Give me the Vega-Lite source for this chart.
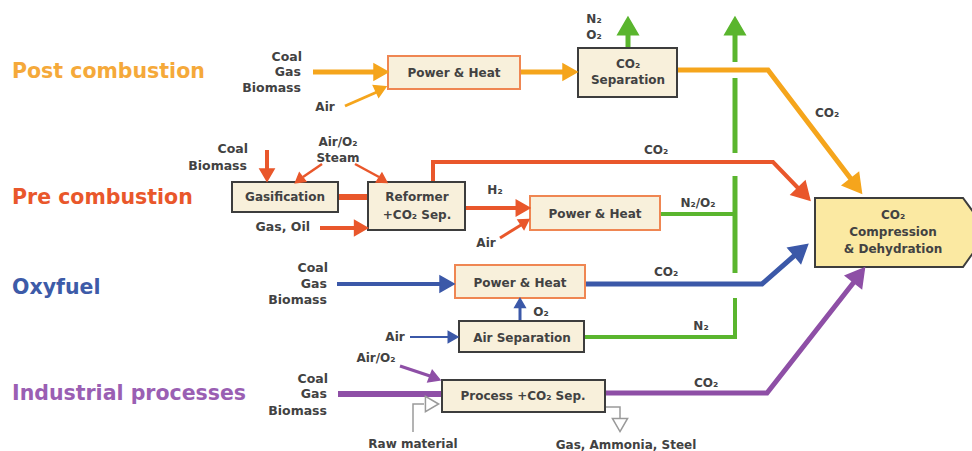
{
  "$schema": "https://vega.github.io/schema/vega-lite/v6.json",
  "width": 972,
  "height": 451,
  "autosize": {"type": "none"},
  "padding": 0,
  "background": "white",
  "config": {"view": {"stroke": null}},
  "datasets": {
    "lines": [
      {"id": "p1", "o": 1, "x": 313, "y": 72, "c": "#f5a51c", "w": 5},
      {"id": "p1", "o": 2, "x": 378, "y": 72, "c": "#f5a51c", "w": 5},
      {"id": "p2", "o": 1, "x": 345, "y": 106, "c": "#f5a51c", "w": 3},
      {"id": "p2", "o": 2, "x": 377, "y": 92, "c": "#f5a51c", "w": 3},
      {"id": "p3", "o": 1, "x": 520, "y": 72, "c": "#f5a51c", "w": 5},
      {"id": "p3", "o": 2, "x": 566, "y": 72, "c": "#f5a51c", "w": 5},
      {"id": "p4", "o": 1, "x": 677, "y": 70, "c": "#f5a51c", "w": 5},
      {"id": "p4", "o": 2, "x": 768, "y": 70, "c": "#f5a51c", "w": 5},
      {"id": "p4", "o": 3, "x": 851, "y": 179, "c": "#f5a51c", "w": 5},
      {"id": "g1", "o": 1, "x": 628, "y": 48, "c": "#5ab52e", "w": 5},
      {"id": "g1", "o": 2, "x": 628, "y": 33, "c": "#5ab52e", "w": 5},
      {"id": "g2", "o": 1, "x": 735, "y": 33, "c": "#5ab52e", "w": 5},
      {"id": "g2", "o": 2, "x": 735, "y": 62, "c": "#5ab52e", "w": 5},
      {"id": "g3", "o": 1, "x": 735, "y": 78, "c": "#5ab52e", "w": 5},
      {"id": "g3", "o": 2, "x": 735, "y": 153, "c": "#5ab52e", "w": 5},
      {"id": "g4", "o": 1, "x": 660, "y": 214, "c": "#5ab52e", "w": 4},
      {"id": "g4", "o": 2, "x": 735, "y": 214, "c": "#5ab52e", "w": 4},
      {"id": "g5", "o": 1, "x": 735, "y": 176, "c": "#5ab52e", "w": 5},
      {"id": "g5", "o": 2, "x": 735, "y": 273, "c": "#5ab52e", "w": 5},
      {"id": "g6", "o": 1, "x": 585, "y": 337, "c": "#5ab52e", "w": 4},
      {"id": "g6", "o": 2, "x": 735, "y": 337, "c": "#5ab52e", "w": 4},
      {"id": "g6", "o": 3, "x": 735, "y": 298, "c": "#5ab52e", "w": 4},
      {"id": "r1", "o": 1, "x": 267, "y": 150, "c": "#e9572b", "w": 4},
      {"id": "r1", "o": 2, "x": 267, "y": 171, "c": "#e9572b", "w": 4},
      {"id": "r2", "o": 1, "x": 322, "y": 164, "c": "#e9572b", "w": 2.5},
      {"id": "r2", "o": 2, "x": 303, "y": 177, "c": "#e9572b", "w": 2.5},
      {"id": "r3", "o": 1, "x": 355, "y": 164, "c": "#e9572b", "w": 2.5},
      {"id": "r3", "o": 2, "x": 379, "y": 177, "c": "#e9572b", "w": 2.5},
      {"id": "r4", "o": 1, "x": 338, "y": 197, "c": "#e9572b", "w": 6},
      {"id": "r4", "o": 2, "x": 368, "y": 197, "c": "#e9572b", "w": 6},
      {"id": "r5", "o": 1, "x": 320, "y": 228, "c": "#e9572b", "w": 4},
      {"id": "r5", "o": 2, "x": 357, "y": 228, "c": "#e9572b", "w": 4},
      {"id": "r6", "o": 1, "x": 433, "y": 182, "c": "#e9572b", "w": 4},
      {"id": "r6", "o": 2, "x": 433, "y": 162, "c": "#e9572b", "w": 4},
      {"id": "r6", "o": 3, "x": 773, "y": 162, "c": "#e9572b", "w": 4},
      {"id": "r6", "o": 4, "x": 799, "y": 189, "c": "#e9572b", "w": 4},
      {"id": "r7", "o": 1, "x": 465, "y": 208, "c": "#e9572b", "w": 4},
      {"id": "r7", "o": 2, "x": 518, "y": 208, "c": "#e9572b", "w": 4},
      {"id": "r8", "o": 1, "x": 500, "y": 238, "c": "#e9572b", "w": 3},
      {"id": "r8", "o": 2, "x": 521, "y": 225, "c": "#e9572b", "w": 3},
      {"id": "b1", "o": 1, "x": 337, "y": 284, "c": "#3b58a8", "w": 4},
      {"id": "b1", "o": 2, "x": 442, "y": 284, "c": "#3b58a8", "w": 4},
      {"id": "b2", "o": 1, "x": 585, "y": 284, "c": "#3b58a8", "w": 5},
      {"id": "b2", "o": 2, "x": 762, "y": 284, "c": "#3b58a8", "w": 5},
      {"id": "b2", "o": 3, "x": 795, "y": 255, "c": "#3b58a8", "w": 5},
      {"id": "b3", "o": 1, "x": 520, "y": 321, "c": "#3b58a8", "w": 3},
      {"id": "b3", "o": 2, "x": 520, "y": 307, "c": "#3b58a8", "w": 3},
      {"id": "b4", "o": 1, "x": 410, "y": 337, "c": "#3b58a8", "w": 2},
      {"id": "b4", "o": 2, "x": 449, "y": 337, "c": "#3b58a8", "w": 2},
      {"id": "v1", "o": 1, "x": 400, "y": 366, "c": "#8e4fa6", "w": 3},
      {"id": "v1", "o": 2, "x": 430, "y": 376, "c": "#8e4fa6", "w": 3},
      {"id": "v2", "o": 1, "x": 338, "y": 394, "c": "#8e4fa6", "w": 6},
      {"id": "v2", "o": 2, "x": 442, "y": 394, "c": "#8e4fa6", "w": 6},
      {"id": "v3", "o": 1, "x": 605, "y": 393, "c": "#8e4fa6", "w": 5},
      {"id": "v3", "o": 2, "x": 767, "y": 393, "c": "#8e4fa6", "w": 5},
      {"id": "v3", "o": 3, "x": 854, "y": 282, "c": "#8e4fa6", "w": 5},
      {"id": "k1", "o": 1, "x": 413, "y": 432, "c": "#9a9a9a", "w": 1.5},
      {"id": "k1", "o": 2, "x": 413, "y": 404, "c": "#9a9a9a", "w": 1.5},
      {"id": "k1", "o": 3, "x": 424, "y": 404, "c": "#9a9a9a", "w": 1.5},
      {"id": "k2", "o": 1, "x": 606, "y": 407, "c": "#9a9a9a", "w": 1.5},
      {"id": "k2", "o": 2, "x": 620, "y": 407, "c": "#9a9a9a", "w": 1.5},
      {"id": "k2", "o": 3, "x": 620, "y": 418, "c": "#9a9a9a", "w": 1.5}
    ],
    "heads": [
      {"x": 381, "y": 72, "a": 90, "sz": 260, "f": "#f5a51c", "s": "#f5a51c"},
      {"x": 381, "y": 89, "a": 65, "sz": 160, "f": "#f5a51c", "s": "#f5a51c"},
      {"x": 570, "y": 72, "a": 90, "sz": 260, "f": "#f5a51c", "s": "#f5a51c"},
      {"x": 856, "y": 186, "a": 142, "sz": 420, "f": "#f5a51c", "s": "#f5a51c"},
      {"x": 628, "y": 26, "a": 0, "sz": 420, "f": "#5ab52e", "s": "#5ab52e"},
      {"x": 735, "y": 26, "a": 0, "sz": 420, "f": "#5ab52e", "s": "#5ab52e"},
      {"x": 267, "y": 175, "a": 180, "sz": 200, "f": "#e9572b", "s": "#e9572b"},
      {"x": 299, "y": 180, "a": 232, "sz": 110, "f": "#e9572b", "s": "#e9572b"},
      {"x": 383, "y": 180, "a": 122, "sz": 110, "f": "#e9572b", "s": "#e9572b"},
      {"x": 361, "y": 228, "a": 90, "sz": 220, "f": "#e9572b", "s": "#e9572b"},
      {"x": 804, "y": 194, "a": 136, "sz": 380, "f": "#e9572b", "s": "#e9572b"},
      {"x": 523, "y": 208, "a": 90, "sz": 240, "f": "#e9572b", "s": "#e9572b"},
      {"x": 525, "y": 222, "a": 57, "sz": 120, "f": "#e9572b", "s": "#e9572b"},
      {"x": 447, "y": 284, "a": 90, "sz": 260, "f": "#3b58a8", "s": "#3b58a8"},
      {"x": 801, "y": 250, "a": 50, "sz": 400, "f": "#3b58a8", "s": "#3b58a8"},
      {"x": 520, "y": 303, "a": 0, "sz": 110, "f": "#3b58a8", "s": "#3b58a8"},
      {"x": 453, "y": 337, "a": 90, "sz": 120, "f": "#3b58a8", "s": "#3b58a8"},
      {"x": 435, "y": 378, "a": 111, "sz": 150, "f": "#8e4fa6", "s": "#8e4fa6"},
      {"x": 859, "y": 275, "a": 38, "sz": 420, "f": "#8e4fa6", "s": "#8e4fa6"},
      {"x": 432, "y": 404, "a": 90, "sz": 230, "f": "white", "s": "#9a9a9a"},
      {"x": 620, "y": 425, "a": 180, "sz": 230, "f": "white", "s": "#9a9a9a"}
    ],
    "boxes": [
      {"x": 388, "x2": 520, "y": 56, "y2": 89, "st": "#ef8652"},
      {"x": 578, "x2": 677, "y": 48, "y2": 97, "st": "#3d3d3d"},
      {"x": 232, "x2": 338, "y": 182, "y2": 212, "st": "#3d3d3d"},
      {"x": 368, "x2": 465, "y": 182, "y2": 230, "st": "#3d3d3d"},
      {"x": 530, "x2": 660, "y": 196, "y2": 230, "st": "#ef8652"},
      {"x": 455, "x2": 585, "y": 265, "y2": 298, "st": "#ef8652"},
      {"x": 459, "x2": 584, "y": 321, "y2": 352, "st": "#3d3d3d"},
      {"x": 442, "x2": 605, "y": 380, "y2": 412, "st": "#3d3d3d"}
    ],
    "comp": [
      {"x": 815, "y": 198, "y2": 267},
      {"x": 963, "y": 198, "y2": 267},
      {"x": 988, "y": 232, "y2": 232}
    ],
    "labels": [
      {"x": 12, "y": 72, "t": "Post combustion", "c": "#f5a93a"},
      {"x": 12, "y": 198, "t": "Pre combustion", "c": "#e9572b"},
      {"x": 12, "y": 288, "t": "Oxyfuel", "c": "#3d5ba8"},
      {"x": 12, "y": 394, "t": "Industrial processes", "c": "#9a5fb3"}
    ],
    "rtext": [
      {"x": 302, "y": 57, "t": "Coal"},
      {"x": 301, "y": 72, "t": "Gas"},
      {"x": 301, "y": 88, "t": "Biomass"},
      {"x": 248, "y": 149, "t": "Coal"},
      {"x": 247, "y": 166, "t": "Biomass"},
      {"x": 310, "y": 227, "t": "Gas, Oil"},
      {"x": 328, "y": 268, "t": "Coal"},
      {"x": 327, "y": 284, "t": "Gas"},
      {"x": 327, "y": 300, "t": "Biomass"},
      {"x": 328, "y": 379, "t": "Coal"},
      {"x": 327, "y": 394, "t": "Gas"},
      {"x": 327, "y": 411, "t": "Biomass"}
    ],
    "ctext": [
      {"x": 325, "y": 107, "t": "Air"},
      {"x": 454, "y": 73, "t": "Power & Heat"},
      {"x": 628, "y": 64, "t": "CO₂"},
      {"x": 628, "y": 80, "t": "Separation"},
      {"x": 594, "y": 19, "t": "N₂"},
      {"x": 594, "y": 35, "t": "O₂"},
      {"x": 827, "y": 113, "t": "CO₂"},
      {"x": 338, "y": 142, "t": "Air/O₂"},
      {"x": 338, "y": 158, "t": "Steam"},
      {"x": 285, "y": 197, "t": "Gasification"},
      {"x": 417, "y": 197, "t": "Reformer"},
      {"x": 417, "y": 215, "t": "+CO₂ Sep."},
      {"x": 656, "y": 150, "t": "CO₂"},
      {"x": 495, "y": 190, "t": "H₂"},
      {"x": 595, "y": 214, "t": "Power & Heat"},
      {"x": 698, "y": 203, "t": "N₂/O₂"},
      {"x": 486, "y": 243, "t": "Air"},
      {"x": 520, "y": 283, "t": "Power & Heat"},
      {"x": 666, "y": 272, "t": "CO₂"},
      {"x": 541, "y": 312, "t": "O₂"},
      {"x": 395, "y": 337, "t": "Air"},
      {"x": 522, "y": 338, "t": "Air Separation"},
      {"x": 701, "y": 326, "t": "N₂"},
      {"x": 376, "y": 358, "t": "Air/O₂"},
      {"x": 523, "y": 396, "t": "Process +CO₂ Sep."},
      {"x": 706, "y": 383, "t": "CO₂"},
      {"x": 413, "y": 444, "t": "Raw material"},
      {"x": 626, "y": 445, "t": "Gas, Ammonia, Steel"},
      {"x": 893, "y": 215, "t": "CO₂"},
      {"x": 893, "y": 232, "t": "Compression"},
      {"x": 893, "y": 249, "t": "& Dehydration"}
    ]
  },
  "layer": [
    {
      "data": {"name": "lines"},
      "mark": {"type": "line", "strokeCap": "butt", "strokeJoin": "miter"},
      "encoding": {
        "x": {"field": "x", "type": "quantitative", "scale": {"domain": [0, 972], "range": [0, 972], "nice": false, "zero": false}, "axis": null},
        "y": {"field": "y", "type": "quantitative", "scale": {"domain": [0, 451], "range": [0, 451], "nice": false, "zero": false}, "axis": null},
        "detail": {"field": "id"},
        "order": {"field": "o", "type": "quantitative"},
        "color": {"field": "c", "type": "nominal", "scale": null},
        "strokeWidth": {"field": "w", "type": "quantitative", "scale": null}
      }
    },
    {
      "data": {"name": "boxes"},
      "mark": {"type": "rect", "fill": "#f8f0db", "strokeWidth": 2},
      "encoding": {
        "x": {"field": "x", "type": "quantitative", "scale": {"domain": [0, 972], "range": [0, 972], "nice": false, "zero": false}, "axis": null},
        "x2": {"field": "x2"},
        "y": {"field": "y", "type": "quantitative", "scale": {"domain": [0, 451], "range": [0, 451], "nice": false, "zero": false}, "axis": null},
        "y2": {"field": "y2"},
        "stroke": {"field": "st", "type": "nominal", "scale": null}
      }
    },
    {
      "data": {"name": "comp"},
      "mark": {"type": "area", "fill": "#fbe9a2", "stroke": "#3d3d3d", "strokeWidth": 2, "clip": true, "orient": "vertical"},
      "encoding": {
        "x": {"field": "x", "type": "quantitative", "scale": {"domain": [0, 972], "range": [0, 972], "nice": false, "zero": false}, "axis": null},
        "y": {"field": "y", "type": "quantitative", "scale": {"domain": [0, 451], "range": [0, 451], "nice": false, "zero": false}, "axis": null},
        "y2": {"field": "y2"}
      }
    },
    {
      "data": {"name": "heads"},
      "mark": {"type": "point", "shape": "triangle-up", "filled": true, "opacity": 1, "strokeWidth": 1.5},
      "encoding": {
        "x": {"field": "x", "type": "quantitative", "scale": {"domain": [0, 972], "range": [0, 972], "nice": false, "zero": false}, "axis": null},
        "y": {"field": "y", "type": "quantitative", "scale": {"domain": [0, 451], "range": [0, 451], "nice": false, "zero": false}, "axis": null},
        "angle": {"field": "a", "type": "quantitative", "scale": null},
        "size": {"field": "sz", "type": "quantitative", "scale": null},
        "fill": {"field": "f", "type": "nominal", "scale": null},
        "stroke": {"field": "s", "type": "nominal", "scale": null}
      }
    },
    {
      "data": {"name": "labels"},
      "mark": {"type": "text", "align": "left", "baseline": "middle", "font": "DejaVu Sans", "fontWeight": "bold", "fontSize": 20.5},
      "encoding": {
        "x": {"field": "x", "type": "quantitative", "scale": {"domain": [0, 972], "range": [0, 972], "nice": false, "zero": false}, "axis": null},
        "y": {"field": "y", "type": "quantitative", "scale": {"domain": [0, 451], "range": [0, 451], "nice": false, "zero": false}, "axis": null},
        "text": {"field": "t"},
        "color": {"field": "c", "type": "nominal", "scale": null}
      }
    },
    {
      "data": {"name": "rtext"},
      "mark": {"type": "text", "align": "right", "baseline": "middle", "font": "DejaVu Sans", "fontWeight": "bold", "fontSize": 12.5, "color": "#424242"},
      "encoding": {
        "x": {"field": "x", "type": "quantitative", "scale": {"domain": [0, 972], "range": [0, 972], "nice": false, "zero": false}, "axis": null},
        "y": {"field": "y", "type": "quantitative", "scale": {"domain": [0, 451], "range": [0, 451], "nice": false, "zero": false}, "axis": null},
        "text": {"field": "t"}
      }
    },
    {
      "data": {"name": "ctext"},
      "mark": {"type": "text", "align": "center", "baseline": "middle", "font": "DejaVu Sans", "fontWeight": "bold", "fontSize": 12, "color": "#424242"},
      "encoding": {
        "x": {"field": "x", "type": "quantitative", "scale": {"domain": [0, 972], "range": [0, 972], "nice": false, "zero": false}, "axis": null},
        "y": {"field": "y", "type": "quantitative", "scale": {"domain": [0, 451], "range": [0, 451], "nice": false, "zero": false}, "axis": null},
        "text": {"field": "t"}
      }
    }
  ]
}
